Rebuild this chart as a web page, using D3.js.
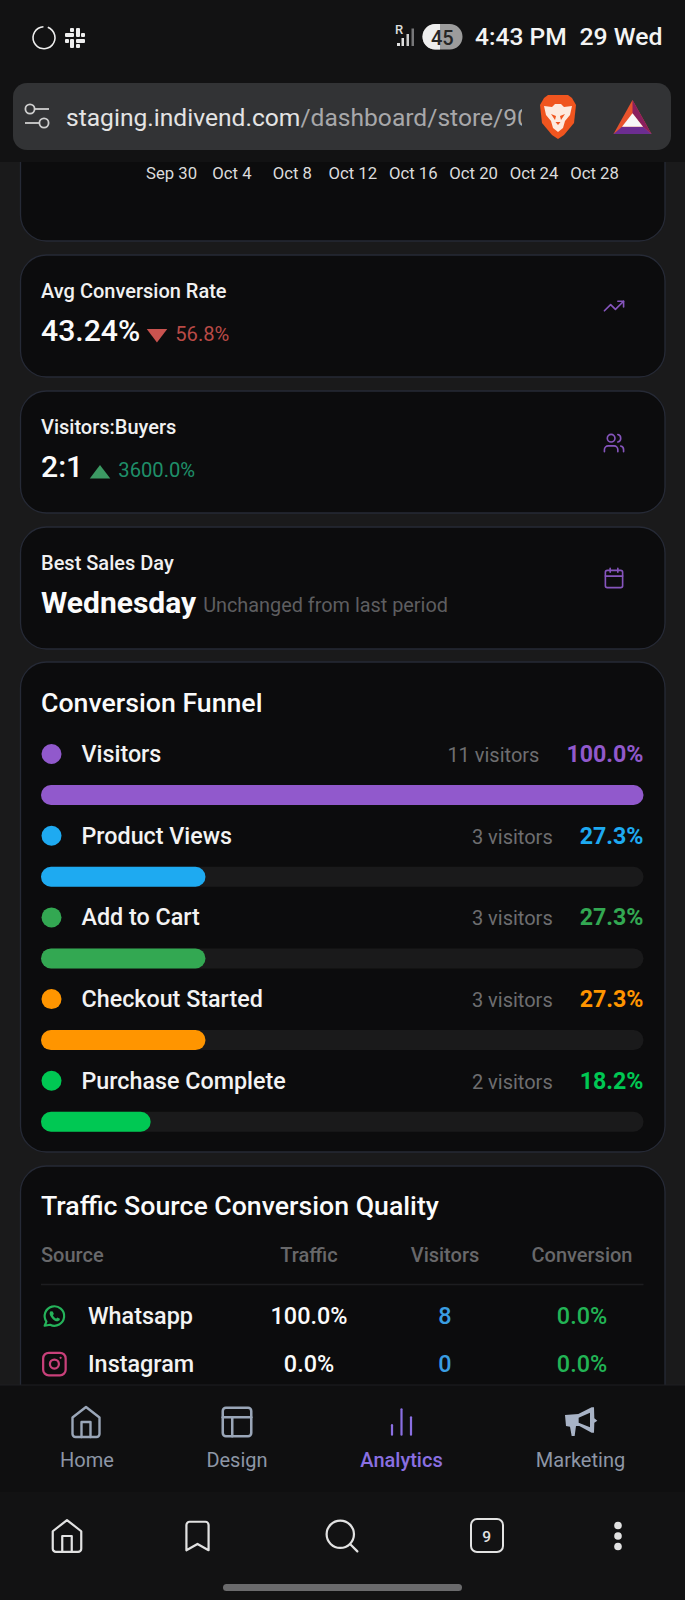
<!DOCTYPE html>
<html><head><meta charset="utf-8">
<script src="https://cdn.jsdelivr.net/npm/d3@7"></script>
<style>html,body{margin:0;padding:0;background:#1a1a1b}svg{display:block;font-family:Roboto,sans-serif}</style>
</head><body><div id="c"></div>
<script>
const dateTicks=["Sep 30","Oct 4","Oct 8","Oct 12","Oct 16","Oct 20","Oct 24","Oct 28"];
const funnelStages=["Visitors","Product Views","Add to Cart","Checkout Started","Purchase Complete"];
const funnelVisitors=[11,3,3,3,2];
const funnelPercent=[100.0,27.3,27.3,27.3,18.2];
const funnelColors=["#9159cc","#1eaaf1","#33a852","#ff9500","#00c853"];
const statTitles=["Avg Conversion Rate","Visitors:Buyers","Best Sales Day"];
const statValues=["43.24%","2:1","Wednesday"];
const statChanges=["56.8%","3600.0%","Unchanged from last period"];
const sourceHeaders=["Source","Traffic","Visitors","Conversion"];
const sourceNames=["Whatsapp","Instagram"];
const sourceTraffic=[100.0,0.0];
const sourceVisitors=[8,0];
const sourceConversion=[0.0,0.0];
const navLabels=["Home","Design","Analytics","Marketing"];

const W=685,H=1600;
const svg=d3.select("#c").append("svg").attr("width",W).attr("height",H).attr("viewBox",`0 0 ${W} ${H}`);
const defs=svg.append("defs");
const CARD="#0c0c0d",BORDER="#262a36",PURPLE="#8655bd";
svg.append("rect").attr("width",W).attr("height",H).attr("fill","#1a1a1b");

function txt(p,s,x,y,size,fill,weight,anchor){
  return p.append("text").attr("x",x).attr("y",y).attr("font-size",size).attr("fill",fill)
    .attr("font-weight",weight||400).attr("text-anchor",anchor||"start").text(s);
}
function card(y0,y1){
  svg.append("rect").attr("x",20.5).attr("y",y0).attr("width",644.5).attr("height",y1-y0)
    .attr("rx",26).attr("fill",CARD).attr("stroke",BORDER).attr("stroke-width",1.3);
}
const ICONS={
  home:["m3 9 9-7 9 7v11a2 2 0 0 1-2 2H5a2 2 0 0 1-2-2z","M9 22V12h6v10"],
  layout:["M5 3h14a2 2 0 0 1 2 2v14a2 2 0 0 1-2 2H5a2 2 0 0 1-2-2V5a2 2 0 0 1 2-2z","M3 9h18","M9 21V9"],
  bars:["M12 20V4","M18 20v-11","M6 20v-6"],
  trend:["M22 7 13.5 15.5 8.5 10.5 2 17","M16 7h6v6"],
  users:["M16 21v-2a4 4 0 0 0-4-4H6a4 4 0 0 0-4 4v2","M9 3a4 4 0 1 0 0 8 4 4 0 0 0 0-8z","M22 21v-2a4 4 0 0 0-3-3.87","M16 3.13a4 4 0 0 1 0 7.75"],
  cal:["M8 2v4","M16 2v4","M5 4h14a2 2 0 0 1 2 2v14a2 2 0 0 1-2 2H5a2 2 0 0 1-2-2V6a2 2 0 0 1 2-2z","M3 10h18"],
  bookmark:["m19 21-7-4-7 4V5a2 2 0 0 1 2-2h10a2 2 0 0 1 2 2v16z"],
  search:["M11 3a8 8 0 1 0 0 16 8 8 0 0 0 0-16z","m21 21-4.3-4.3"],
  whatsapp:["M3 21l1.65-3.8a9 9 0 1 1 3.4 2.9L3 21"],
  instagram:["M7 2h10a5 5 0 0 1 5 5v10a5 5 0 0 1-5 5H7a5 5 0 0 1-5-5V7a5 5 0 0 1 5-5z","M12 8a4 4 0 1 0 0 8 4 4 0 0 0 0-8z","M17.5 6.5h.01"]
};
function icon(name,cx,cy,size,color,sw){
  const g=svg.append("g").attr("transform",`translate(${cx-size/2},${cy-size/2}) scale(${size/24})`)
    .attr("fill","none").attr("stroke",color).attr("stroke-width",sw).attr("stroke-linecap","round").attr("stroke-linejoin","round");
  ICONS[name].forEach(d=>g.append("path").attr("d",d));
  return g;
}

// top chart card with its date axis
card(-40,241);
const xAxisScale=d3.scalePoint().domain(dateTicks).range([171,594]);
const ax=svg.append("g").attr("transform","translate(0,162)")
  .call(d3.axisBottom(xAxisScale).tickSize(0).tickPadding(4));
ax.select(".domain").remove();
ax.selectAll("text").attr("font-family","Roboto,sans-serif").attr("font-size",16.7).attr("fill","#dcdcdc").attr("dy","0.76em");

// stat cards
const statY=d3.scalePoint().domain(statTitles).range([255,527]);
const statColors=["#b94a46","#1f8f69","#5e5e60"];
const triColors=["#c9534f","#3c9a63",null];
const statIcons=["trend","users","cal"];
const iconYs=[306,443,578];
statTitles.forEach((t,i)=>{
  const y=statY(t);
  card(y,y+122);
  txt(svg,t,41,y+43,20,"#f1f1f1",500);
  const v=txt(svg,statValues[i],41,y+86,i==2?30:30.2,"#fbfbfb",i==2?700:500);
  const w=v.node().getComputedTextLength();
  if(triColors[i]){
    const x0=41+w+6.5, top=y+74, bot=y+87.5;
    const pts=i==0?[[x0,top],[x0+20.5,top],[x0+10.2,bot]]:[[x0,bot],[x0+20.5,bot],[x0+10.2,top]];
    svg.append("path").attr("d",d3.line()(pts)+"Z").attr("fill",triColors[i]);
    txt(svg,statChanges[i],x0+28.5,y+86,20.2,statColors[i]);
  } else {
    txt(svg,statChanges[i],41+w+7,y+84.5,19.85,statColors[i]);
  }
  icon(statIcons[i],614,iconYs[i],23,PURPLE,1.7);
});

// conversion funnel
card(662,1152);
txt(svg,"Conversion Funnel",41,711.5,26.7,"#fbfbfb",500);
const barX=d3.scaleLinear().domain([0,100]).range([41,643.5]);
const rowY=d3.scalePoint().domain(funnelStages).range([754,1080.8]);
const rows=svg.selectAll("g.row").data(funnelStages).join("g").attr("class","row")
  .attr("transform",d=>`translate(0,${rowY(d)})`);
rows.append("circle").attr("cx",51.5).attr("cy",0).attr("r",10).attr("fill",(d,i)=>funnelColors[i]);
rows.append("text").attr("x",81.5).attr("y",7.8).attr("font-size",23.3).attr("font-weight",500).attr("fill","#f3f3f3").text(d=>d);
rows.append("text").attr("class","pct").attr("x",643.5).attr("y",7.8).attr("text-anchor","end").attr("font-size",23.2).attr("font-weight",700)
  .attr("fill",(d,i)=>funnelColors[i]).text((d,i)=>funnelPercent[i].toFixed(1)+"%");
rows.each(function(d,i){
  const g=d3.select(this);
  const pw=g.select(".pct").node().getComputedTextLength();
  g.append("text").attr("x",643.5-pw-27).attr("y",7.8).attr("text-anchor","end").attr("font-size",20)
    .attr("fill","#6e6e70").text(funnelVisitors[i]+" visitors");
});
rows.append("rect").attr("x",barX(0)).attr("y",31).attr("width",barX(100)-barX(0)).attr("height",20).attr("rx",10).attr("fill","#1a1a1b");
rows.append("rect").attr("x",barX(0)).attr("y",31).attr("width",(d,i)=>barX(funnelPercent[i])-barX(0)).attr("height",20).attr("rx",10).attr("fill",(d,i)=>funnelColors[i]);

// traffic table
card(1166,1420);
txt(svg,"Traffic Source Conversion Quality",41,1215,26.7,"#fbfbfb",500);
const colCenters=[null,309,445,582];
sourceHeaders.forEach((h,i)=>{
  txt(svg,h,i==0?41:colCenters[i],1262,20,"#68686a",500,i==0?"start":"middle");
});
svg.append("line").attr("x1",41).attr("x2",643.5).attr("y1",1284.5).attr("y2",1284.5).attr("stroke","#1d1d20").attr("stroke-width",1.3);
const srcY=d3.scalePoint().domain(sourceNames).range([1324,1372]);
const srcIcon=["whatsapp","instagram"],srcIconColor=["#25b35a","#c9407a"],srcIconSize=[26,27];
sourceNames.forEach((s,i)=>{
  const y=srcY(s);
  const g=icon(srcIcon[i],54.4,y-8,srcIconSize[i],srcIconColor[i],2);
  if(i==0) g.append("path").attr("d","M8.5 7.6c-.6.5-1.2 1.6-.7 3.2s3 5.2 5.7 6c1.5.4 2.9-.2 3.4-1l.2-1.3-2.4-1.1-.9 1c-1.2-.4-2.8-2-3.2-3.2l.9-1-1-2.3z").attr("fill",srcIconColor[0]).attr("stroke","none");
  txt(svg,s,88,y,23.4,"#f3f3f3",500);
  txt(svg,sourceTraffic[i].toFixed(1)+"%",309,y,23.4,"#fbfbfb",500,"middle");
  txt(svg,String(sourceVisitors[i]),445,y,23.4,"#3a9ee2",500,"middle");
  txt(svg,sourceConversion[i].toFixed(1)+"%",582,y,23.4,"#22b455",500,"middle");
});

// in-page navigation
svg.append("rect").attr("y",1385).attr("width",W).attr("height",107).attr("fill","#0f0f10");
svg.append("line").attr("x1",0).attr("x2",W).attr("y1",1385).attr("y2",1385).attr("stroke","#1f1f22").attr("stroke-width",1);
const navX=d3.scaleOrdinal().domain(navLabels).range([87,237,401.5,580.5]);
const GREY="#8d96a6",ICONGREY="#9aa6b8",ACTIVE="#8a6fe2";
navLabels.forEach((l,i)=>{
  txt(svg,l,navX(l),1467,20,i==2?ACTIVE:GREY,i==2?500:400,"middle");
});
icon("home",86,1422,36,ICONGREY,1.6);
icon("layout",237,1422,38,ICONGREY,1.6);
icon("bars",401.5,1422,38,ACTIVE,1.4);
// megaphone
const mega=svg.append("g").attr("transform","translate(540,1390) scale(0.3333)").attr("fill","#a8b3c6");
mega.append("path").attr("fill-rule","evenodd").attr("d","M75,75 L115,72 L155,52 L162,52 L163,85 L172,92 L163,98 L162,128 L155,128 L118,108 L108,108 L104,138 L95,138 L90,110 L78,108 Z M116,83 L150,68 L150,112 L116,98 Z");

// browser bottom bar
svg.append("rect").attr("y",1492).attr("width",W).attr("height",108).attr("fill","#121213");
const WHITE="#e2e2e2";
icon("home",67,1536,38,WHITE,1.4);
icon("bookmark",197.5,1536,38,WHITE,1.4);
icon("search",342,1536,41,WHITE,1.3);
svg.append("rect").attr("x",471).attr("y",1519).attr("width",32).attr("height",33).attr("rx",6).attr("fill","none").attr("stroke",WHITE).attr("stroke-width",2);
txt(svg,"9",486.7,1541.5,15.5,WHITE,500,"middle");
[-10.5,0,10.5].forEach(d=>svg.append("circle").attr("cx",618).attr("cy",1536+d).attr("r",3.8).attr("fill",WHITE));
svg.append("rect").attr("x",223).attr("y",1584).attr("width",239).attr("height",7).attr("rx",3.5).attr("fill","#6a6a6c");

// browser top band
svg.append("rect").attr("width",W).attr("height",162).attr("fill","#121213");
// status bar
svg.append("path").attr("d",d3.arc()({innerRadius:10.2,outerRadius:11.8,startAngle:0.35,endAngle:Math.PI*2-0.05}))
  .attr("transform","translate(44,37.7)").attr("fill","#eeeeee");
const sl=svg.append("g").attr("transform","translate(75,38)").attr("fill","#eeeeee");
[[-10,-5,9,4],[-5,-10,4,4],[1,-10,4,9],[6,-5,4,4],[1,1,9,4],[1,6,4,4],[-5,1,4,9],[-10,1,4,4]]
  .forEach(r=>sl.append("rect").attr("x",r[0]).attr("y",r[1]).attr("width",r[2]).attr("height",r[3]).attr("rx",1));
txt(svg,"R",395,34.3,13,"#dddddd",500);
[[397,43,3,3,"#e0e0e0"],[401.5,38,2.5,8,"#e0e0e0"],[406.5,34,2.5,12,"#cccccc"],[411.5,28.5,2.5,17.5,"#777779"]]
  .forEach(r=>svg.append("rect").attr("x",r[0]).attr("y",r[1]).attr("width",r[2]).attr("height",r[3]).attr("fill",r[4]));
svg.append("rect").attr("x",422.5).attr("y",24).attr("width",40).attr("height",25.5).attr("rx",12.7).attr("fill","#9c9c9c");
defs.append("clipPath").attr("id","bl").append("rect").attr("x",422).attr("y",23).attr("width",18).attr("height",28);
svg.append("rect").attr("x",422.5).attr("y",24).attr("width",40).attr("height",25.5).attr("rx",12.7).attr("fill","#eeeeee").attr("clip-path","url(#bl)");
txt(svg,"45",442.3,45,20,"#262626",500,"middle");
txt(svg,"4:43 PM",475,44.5,24.6,"#f4f4f4",500);
txt(svg,"29 Wed",579.5,44.5,24.8,"#f4f4f4",500);

// address bar
svg.append("rect").attr("x",13).attr("y",83).attr("width",658).attr("height",67).attr("rx",14).attr("fill","#323335");
const f=svg.append("g").attr("fill","none").attr("stroke","#cfcfcf").attr("stroke-width",1.8);
f.append("circle").attr("cx",30).attr("cy",109).attr("r",4.6);
f.append("line").attr("x1",35).attr("x2",49).attr("y1",109).attr("y2",109);
f.append("circle").attr("cx",44).attr("cy",123).attr("r",4.6);
f.append("line").attr("x1",25).attr("x2",39).attr("y1",123).attr("y2",123);
defs.append("clipPath").attr("id","u").append("rect").attr("x",60).attr("y",90).attr("width",462).attr("height",50);
const u=svg.append("text").attr("x",66).attr("y",126).attr("font-size",24.6).attr("clip-path","url(#u)").attr("fill","#e4e4e4");
u.append("tspan").text("staging.indivend.com");
u.append("tspan").attr("fill","#a8a8aa").text("/dashboard/store/90");
// Brave lion
const lion=svg.append("g").attr("transform","translate(558,117)");
lion.append("path").attr("d","M-10,-22 L10,-22 L14,-19 L18,-12 L16,6 L6,18 L0,22 L-6,18 L-16,6 L-18,-12 L-14,-19 Z").attr("fill","#f0551f");
lion.append("path").attr("d","M-14,-11 L-6,-10 L-3,-13 L3,-13 L6,-10 L14,-11 L12,-2 L7,4 L5,11 L0,15 L-5,11 L-7,4 L-12,-2 Z").attr("fill","#fdeadf");
lion.append("path").attr("d","M-7,-3 L-2,-1 L-3,3 Z M7,-3 L2,-1 L3,3 Z M-2.5,5 L2.5,5 L0,8 Z").attr("fill","#f0551f");
// BAT triangle
const bat=svg.append("g").attr("transform","translate(632.5,117)");
bat.append("path").attr("d","M0,-17 L19,17 L-19,17 Z").attr("fill","#e8532c");
bat.append("path").attr("d","M0,-17 L19,17 L10.5,9.7 L0,-3.7 Z").attr("fill","#8a1f5e");
bat.append("path").attr("d","M-19,17 L19,17 L10.5,9.7 L-10.5,9.7 Z").attr("fill","#6c2d91");
bat.append("path").attr("d","M0,-3.7 L10.5,9.7 L-10.5,9.7 Z").attr("fill","#f7f7f7");
</script></body></html>
